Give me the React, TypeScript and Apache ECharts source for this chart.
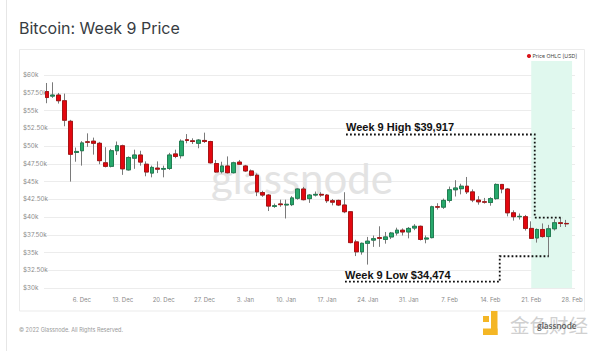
import React, { useEffect, useRef } from 'react';
import * as echarts from 'echarts';

// ---------- data ----------
const MONTHS = ['Jan', 'Feb', 'Mar', 'Apr', 'May', 'Jun', 'Jul', 'Aug', 'Sep', 'Oct', 'Nov', 'Dec'];
const START_UTC = Date.UTC(2021, 10, 30); // 30 Nov 2021
const DAY_COUNT = 91; // axis runs to 28 Feb 2022
const dates: string[] = Array.from({ length: DAY_COUNT }, (_, i) => {
  const d = new Date(START_UTC + i * 86400000);
  return `${d.getUTCDate()}. ${MONTHS[d.getUTCMonth()]}`;
});

const tickDates = ['6. Dec', '13. Dec', '20. Dec', '27. Dec', '3. Jan', '10. Jan', '17. Jan', '24. Jan', '31. Jan', '7. Feb', '14. Feb', '21. Feb', '28. Feb'];

// [open, close, low, high] in USD
const ohlc: number[][] = [
  [57700, 56850, 56050, 58900],
  [57050, 57200, 56800, 59000],
  [57200, 56400, 56000, 57500],
  [56400, 53650, 52800, 57400],
  [53500, 48850, 45000, 53700],
  [49100, 49250, 47800, 49800],
  [49350, 50450, 47250, 50700],
  [50600, 50550, 49900, 51800],
  [50700, 50400, 48800, 51200],
  [50400, 47950, 47450, 50600],
  [47650, 47150, 47000, 49850],
  [47150, 49350, 47000, 49600],
  [49350, 50050, 48750, 50650],
  [50050, 46800, 45950, 50200],
  [46650, 48400, 46550, 48550],
  [48300, 48750, 46800, 49500],
  [48750, 47750, 47250, 49350],
  [47450, 46350, 45750, 47850],
  [46200, 47000, 45600, 47250],
  [46900, 46750, 46200, 47850],
  [46750, 46850, 45600, 47250],
  [46850, 48750, 46650, 49050],
  [48900, 48550, 48300, 49500],
  [48650, 50700, 48250, 50950],
  [50900, 50800, 50400, 51700],
  [50750, 50650, 50300, 51100],
  [50400, 50850, 49700, 51000],
  [50800, 50650, 50450, 51900],
  [50650, 47650, 47550, 50750],
  [47550, 46350, 46250, 48050],
  [46400, 47200, 46150, 47800],
  [47200, 46250, 46150, 48550],
  [46250, 47650, 46150, 47800],
  [47750, 47450, 47350, 48050],
  [47200, 46500, 46350, 47350],
  [46500, 45900, 45750, 46700],
  [45900, 43550, 42950, 46150],
  [43450, 43100, 42850, 43700],
  [43100, 41550, 40850, 43250],
  [41500, 41600, 41300, 41900],
  [41850, 41750, 41450, 42450],
  [41700, 41800, 39800, 42450],
  [41750, 42700, 41550, 42950],
  [42650, 43950, 42450, 44050],
  [43950, 42450, 42350, 44250],
  [42600, 43100, 42000, 43250],
  [43100, 43200, 42900, 43600],
  [43200, 43100, 42850, 43500],
  [43100, 42300, 42000, 43250],
  [42300, 42100, 41650, 42550],
  [42350, 41700, 41550, 42450],
  [41700, 40750, 40550, 43500],
  [40750, 36400, 36300, 40850],
  [36500, 35100, 34500, 36800],
  [35100, 36300, 34700, 36400],
  [36300, 36600, 33300, 37200],
  [36750, 36950, 35800, 37400],
  [37100, 37000, 35800, 38700],
  [36850, 37200, 36250, 37900],
  [37200, 37750, 36900, 37900],
  [37750, 38150, 37400, 38500],
  [38150, 37900, 37400, 38400],
  [37900, 38400, 37000, 38600],
  [38450, 38700, 38150, 39000],
  [38700, 36850, 36700, 38800],
  [36900, 37050, 36300, 37400],
  [37100, 41450, 37000, 41600],
  [41450, 41400, 41050, 41950],
  [41400, 42350, 41150, 42600],
  [42350, 43850, 42050, 44300],
  [43850, 44100, 42900, 45200],
  [44000, 44350, 43200, 44700],
  [44350, 43550, 43250, 45650],
  [43550, 42400, 42100, 43900],
  [42400, 42150, 41750, 42950],
  [42150, 42100, 41900, 42700],
  [42050, 42600, 41600, 42800],
  [42600, 44600, 42450, 44750],
  [44600, 43950, 43350, 44650],
  [43950, 40600, 40100, 44100],
  [40600, 40050, 39500, 40950],
  [40050, 40100, 39650, 40500],
  [40050, 38400, 38100, 40300],
  [38400, 37000, 36900, 39400],
  [37050, 38250, 36400, 38400],
  [38250, 37250, 37100, 39100],
  [37250, 38350, 34474, 38900],
  [38350, 39200, 38100, 39700],
  [39200, 39100, 38600, 39917],
  [39100, 39050, 38600, 39600],
];

const weekBand = ['21. Feb', '28. Feb'];
const weekHigh = 39917;
const weekHighIdx = 88;
const weekLow = 34474;
const weekLowIdx = 86;

const fmtPrice = (v: number) =>
  v % 1000 === 0 ? `$${v / 1000}k` : `$${(v / 1000).toFixed(2)}k`;

export default function App() {
  const ref = useRef<HTMLDivElement>(null);

  useEffect(() => {
    if (!ref.current) return;
    document.body.style.margin = '0';
    const chart = echarts.init(ref.current, undefined, { renderer: 'svg' });

    const bodies = ohlc.map(([o, c]) => [o, c, Math.min(o, c), Math.max(o, c)]);

    chart.setOption({
      animation: false,
      backgroundColor: '#ffffff',
      textStyle: { fontFamily: 'Inter, "Noto Sans", sans-serif' },
      grid: { left: 44, right: 25, top: 61, bottom: 63, containLabel: false },
      xAxis: {
        type: 'category',
        data: dates,
        boundaryGap: true,
        axisLine: { show: false },
        axisTick: { show: false },
        splitLine: { show: false },
        axisLabel: {
          interval: (_i: number, v: string) => tickDates.includes(v),
          color: '#8a8a8a',
          fontSize: 6,
          margin: 8,
          hideOverlap: false,
        },
      },
      yAxis: {
        type: 'value',
        min: 30000,
        max: 62000,
        interval: 2500,
        axisLine: { show: false },
        axisTick: { show: false },
        splitLine: { show: true, showMaxLine: false, lineStyle: { color: '#ececec', width: 1 } },
        axisLabel: {
          formatter: (v: number) => fmtPrice(v),
          showMaxLabel: false,
          align: 'left',
          margin: 21,
          color: '#8a8a8a',
          fontSize: 6.3,
        },
      },
      series: [
        {
          name: 'Price OHLC [USD]',
          type: 'candlestick',
          data: ohlc,
          barWidth: '74%',
          silent: true,
          z: 2,
          itemStyle: {
            color: '#27a96c',
            color0: '#e4070f',
            borderColor: '#7a7a7a',
            borderColor0: '#7a7a7a',
            borderWidth: 1,
          },
          markArea: {
            silent: true,
            itemStyle: { color: '#e0f8ee' },
            data: [[{ xAxis: weekBand[0] }, { xAxis: weekBand[1] }]],
          },
        },
        {
          name: 'bodies',
          type: 'candlestick',
          data: bodies,
          barWidth: '74%',
          silent: true,
          z: 3,
          itemStyle: {
            color: '#27a96c',
            color0: '#e4070f',
            borderColor: '#167a4b',
            borderColor0: '#a50b0b',
            borderWidth: 0.8,
          },
        },
      ],
    });

    const toPx = (idx: number, v: number) =>
      chart.convertToPixel({ xAxisIndex: 0, yAxisIndex: 0 }, [idx, v]) as number[];
    const catW = toPx(1, 30000)[0] - toPx(0, 30000)[0];
    const hi = toPx(weekHighIdx, weekHigh);
    const lo = toPx(weekLowIdx, weekLow);
    const hiVx = toPx(83, weekHigh)[0] + 0.6 * catW;
    const loVx = toPx(77, weekLow)[0] + 0.6 * catW;

    const dotted = {
      stroke: '#111111',
      lineWidth: 1.8,
      lineDash: [1.8, 2.2],
      fill: null,
    };

    chart.setOption({
      graphic: [
        {
          type: 'line', z: 0, silent: true,
          shape: { x1: 6.5, y1: 0, x2: 6.5, y2: 351 },
          style: { stroke: '#e6e6e6', lineWidth: 1 },
        },
        {
          type: 'rect', z: 0, silent: true,
          shape: { x: 19.5, y: 49.5, width: 565, height: 261.5 },
          style: { stroke: '#ebebeb', lineWidth: 1, fill: 'none' },
        },
        {
          type: 'text', z: 10, silent: true, x: 19, y: 27.5,
          style: {
            text: 'Bitcoin: Week 9 Price',
            font: '16px Inter, "Noto Sans", sans-serif',
            fill: '#373c42',
            verticalAlign: 'middle',
          },
        },
        {
          type: 'circle', z: 10, silent: true,
          shape: { cx: 529, cy: 56, r: 2.1 },
          style: { fill: '#d9141b' },
        },
        {
          type: 'text', z: 10, silent: true, x: 532.5, y: 56.3,
          style: {
            text: 'Price OHLC [USD]',
            font: '5.2px Inter, "Noto Sans", sans-serif',
            fill: '#444444',
            verticalAlign: 'middle',
          },
        },
        {
          type: 'text', z: 1, silent: true, x: 302, y: 178,
          style: {
            text: 'glassnode',
            font: '42px Lato, "Noto Sans", sans-serif',
            fill: '#e3e3e3',
            align: 'center',
            verticalAlign: 'middle',
          },
        },
        {
          type: 'polyline', z: 20, silent: true,
          shape: { points: [[346, 134.5], [hiVx, 134.5], [hiVx, hi[1]], [hi[0] + 2.5, hi[1]]] },
          style: dotted,
        },
        {
          type: 'polyline', z: 20, silent: true,
          shape: { points: [[345, 281.7], [loVx, 281.7], [loVx, lo[1]], [lo[0], lo[1]]] },
          style: dotted,
        },
        {
          type: 'text', z: 20, silent: true, x: 346, y: 127,
          style: {
            text: 'Week 9 High $39,917',
            font: 'bold 11px "Liberation Sans", Arial, sans-serif',
            fill: '#111111',
            verticalAlign: 'middle',
          },
        },
        {
          type: 'text', z: 20, silent: true, x: 345, y: 274.5,
          style: {
            text: 'Week 9 Low $34,474',
            font: 'bold 11px "Liberation Sans", Arial, sans-serif',
            fill: '#111111',
            verticalAlign: 'middle',
          },
        },
        {
          type: 'text', z: 10, silent: true, x: 19, y: 330,
          style: {
            text: '© 2022 Glassnode. All Rights Reserved.',
            font: '5.5px Inter, "Noto Sans", sans-serif',
            fill: '#9a9a9a',
            verticalAlign: 'middle',
          },
        },
        {
          type: 'rect', z: 10, silent: true,
          shape: { x: 483, y: 316, width: 6, height: 6 },
          style: { fill: '#f4b625' },
        },
        {
          type: 'rect', z: 10, silent: true,
          shape: { x: 491, y: 311, width: 6.5, height: 24 },
          style: { fill: '#f4b625' },
        },
        {
          type: 'rect', z: 10, silent: true,
          shape: { x: 483, y: 328.5, width: 14.5, height: 6.5 },
          style: { fill: '#f4b625' },
        },
        {
          type: 'text', z: 10, silent: true, x: 510, y: 324,
          style: {
            text: '金色财经',
            font: '19.5px "Noto Sans CJK SC", sans-serif',
            fill: '#d0d0d0',
            verticalAlign: 'middle',
          },
        },
        {
          type: 'text', z: 11, silent: true, x: 537, y: 325,
          style: {
            text: 'glassnode',
            font: 'bold 9px Lato, sans-serif',
            fill: 'rgba(40,40,40,0.7)',
            verticalAlign: 'middle',
          },
        },
      ],
    });

    return () => chart.dispose();
  }, []);

  return (
    <div
      ref={ref}
      style={{ position: 'absolute', left: 0, top: 0, width: 600, height: 351, background: '#fff' }}
    />
  );
}
